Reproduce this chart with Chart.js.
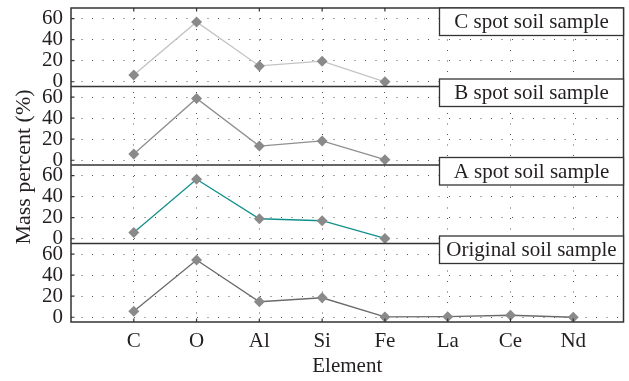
<!DOCTYPE html>
<html>
<head>
<meta charset="utf-8">
<script src="https://cdn.jsdelivr.net/npm/chart.js@4/dist/chart.umd.min.js"></script>
<style>
  body { margin: 0; background: #fff; }
</style>
</head>
<body>
<canvas id="massChart" width="629" height="381"></canvas>
<script>
// element categories on the shared x axis
const categories = ['C', 'O', 'Al', 'Si', 'Fe', 'La', 'Ce', 'Nd'];
const yTickValues = [0, 20, 40, 60];

// mass percent (%) per panel, top to bottom
const cSpot = [6.4, 56.8, 15, 19.5, 0];
const bSpot = [6, 58.7, 13.5, 18.3, 0.5];
const aSpot = [6, 56.5, 19, 17.1, 0.3];
const original = [5.7, 54.3, 14.7, 18.5, 0.3, 0.6, 1.9, 0];

const panelNames = ['C spot soil sample', 'B spot soil sample', 'A spot soil sample', 'Original soil sample'];
const panelIds = ['yC', 'yB', 'yA', 'yO'];

const serif = "'Liberation Serif', 'DejaVu Serif', serif";
const textColor = '#231f20';

function toPoints(values) {
  return values.map((v, i) => ({ x: i + 1, y: v }));
}

function makeDataset(values, color, axis) {
  return {
    data: toPoints(values),
    yAxisID: axis,
    borderColor: color,
    borderWidth: 1.3,
    pointStyle: 'rectRot',
    pointRadius: 5.5,
    pointBackgroundColor: '#8a8a8a',
    pointBorderColor: '#8a8a8a',
    pointBorderWidth: 0,
    tension: 0,
  };
}

function yAxis() {
  return {
    type: 'linear',
    position: 'left',
    stack: 'panels',
    stackWeight: 1,
    min: -4.5,
    max: 70,
    afterFit: function (scale) {
      scale.width = 71;
      scale.paddingTop = 0;
      scale.paddingBottom = 0;
    },
    afterBuildTicks: function (scale) {
      scale.ticks = yTickValues.map(v => ({ value: v }));
    },
    ticks: {
      autoSkip: false,
      padding: 8,
      color: textColor,
      font: { family: serif, size: 21 },
    },
    grid: { color: '#555', lineWidth: 1, drawTicks: false },
    border: { display: false, dash: [1, 9.5] },
  };
}

// frame, inner tick marks, panel separators, panel labels and shared y title
const framePlugin = {
  id: 'frame',
  afterDraw(chart) {
    const { ctx, chartArea: a } = chart;
    const xs = chart.scales.x;
    ctx.save();
    ctx.strokeStyle = '#333';
    ctx.lineWidth = 1.5;
    ctx.strokeRect(a.left, a.top, a.right - a.left, a.bottom - a.top);

    ctx.lineWidth = 1.2;
    ctx.beginPath();
    categories.forEach((c, i) => {
      const px = xs.getPixelForValue(i + 1);
      ctx.moveTo(px, a.top); ctx.lineTo(px, a.top + 3.5);
      ctx.moveTo(px, a.bottom); ctx.lineTo(px, a.bottom - 3.5);
    });
    panelIds.forEach(id => {
      const s = chart.scales[id];
      yTickValues.forEach(v => {
        const py = s.getPixelForValue(v);
        ctx.moveTo(a.left, py); ctx.lineTo(a.left + 3.5, py);
      });
    });
    ctx.stroke();

    ctx.lineWidth = 1.5;
    panelIds.forEach(id => {
      const s = chart.scales[id];
      if (s.top > a.top + 2) {
        ctx.beginPath();
        ctx.moveTo(a.left, s.top);
        ctx.lineTo(a.right, s.top);
        ctx.stroke();
      }
    });

    ctx.font = '21px ' + serif;
    ctx.textAlign = 'center';
    ctx.textBaseline = 'middle';
    panelIds.forEach((id, i) => {
      const s = chart.scales[id];
      const w = 184, h = 27.5;
      const x = a.right - w;
      const y = Math.max(a.top, s.top - 7.5);
      ctx.fillStyle = '#fff';
      ctx.fillRect(x, y, w, h);
      ctx.strokeStyle = '#333';
      ctx.lineWidth = 1.3;
      ctx.strokeRect(x, y, w, h);
      ctx.fillStyle = textColor;
      ctx.fillText(panelNames[i], x + w / 2, y + h / 2 + 1);
    });

    ctx.font = '22px ' + serif;
    ctx.translate(24, (a.top + a.bottom) / 2 + 2);
    ctx.rotate(-Math.PI / 2);
    ctx.fillStyle = textColor;
    ctx.fillText('Mass percent (%)', 0, 0);
    ctx.restore();
  }
};

const ctx = document.getElementById('massChart').getContext('2d');

new Chart(ctx, {
  type: 'line',
  data: {
    datasets: [
      makeDataset(cSpot, '#c4c4c4', 'yC'),
      makeDataset(bSpot, '#8f8f8f', 'yB'),
      makeDataset(aSpot, '#13908b', 'yA'),
      makeDataset(original, '#6a6a6a', 'yO'),
    ]
  },
  options: {
    responsive: false,
    animation: false,
    layout: { padding: { top: 8, right: 3, left: 0, bottom: 0 } },
    plugins: { legend: { display: false }, tooltip: { enabled: false } },
    scales: {
      x: {
        type: 'linear',
        min: 0,
        max: 8.8,
        afterFit: function (scale) {
          scale.height = 59;
          scale.paddingLeft = 0;
          scale.paddingRight = 0;
        },
        afterBuildTicks: function (scale) {
          scale.ticks = categories.map((c, i) => ({ value: i + 1 }));
        },
        ticks: {
          autoSkip: false,
          maxRotation: 0,
          padding: 7,
          color: textColor,
          font: { family: serif, size: 21 },
          callback: v => categories[v - 1] || '',
        },
        grid: { color: '#555', lineWidth: 1, drawTicks: false },
        border: { display: false, dash: [1, 9.5] },
        title: {
          display: true,
          text: 'Element',
          color: textColor,
          font: { family: serif, size: 21 },
          padding: { top: 0, bottom: 2 },
        },
      },
      yO: yAxis(),
      yA: yAxis(),
      yB: yAxis(),
      yC: yAxis(),
    }
  },
  plugins: [framePlugin]
});
</script>
</body>
</html>
